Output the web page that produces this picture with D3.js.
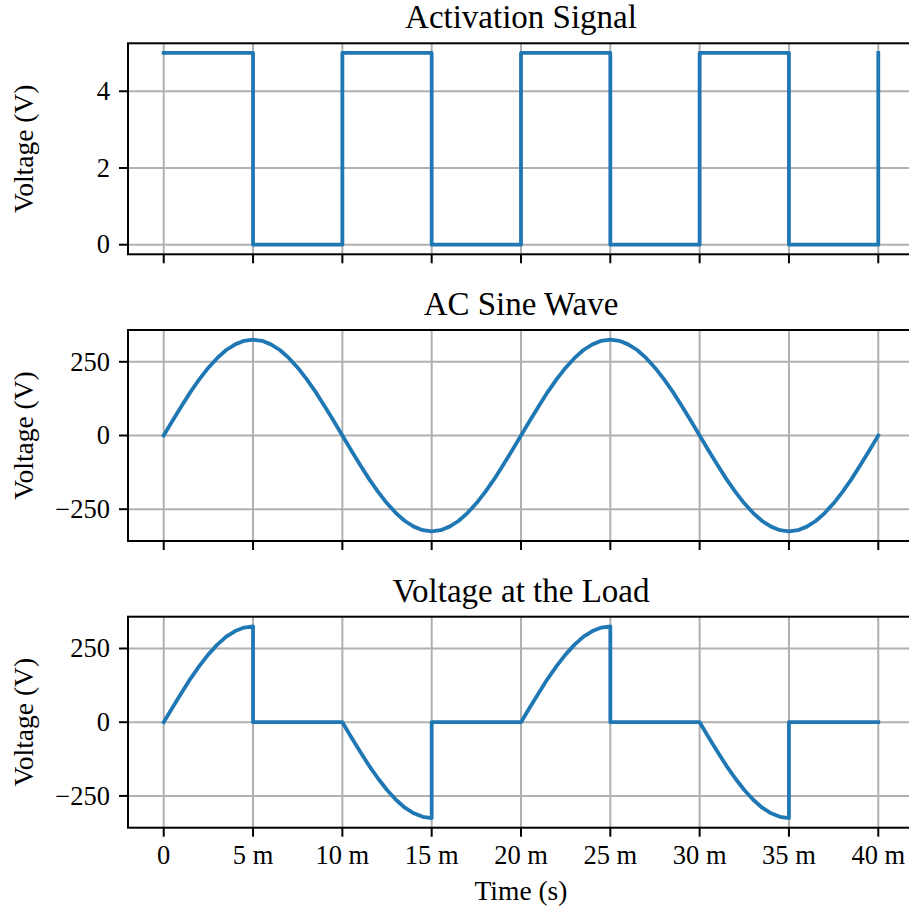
<!DOCTYPE html>
<html>
<head>
<meta charset="utf-8">
<script src="https://cdn.jsdelivr.net/npm/d3@7"></script>
<style>
  body { margin: 0; background: #fff; }
  text { font-family: "Liberation Serif", "DejaVu Serif", serif; fill: #000; }
</style>
</head>
<body>
<script>
// Data (time in ms, voltage in V)
const squareTimeMs = [0, 5, 5, 10, 10, 15, 15, 20, 20, 25, 25, 30, 30, 35, 35, 40, 40];
const squareVolts  = [5, 5, 0, 0, 5, 5, 0, 0, 5, 5, 0, 0, 5, 5, 0, 0, 5];

// AC sine wave, sampled every 0.5 ms from 0 to 40 ms
const sineTimeMs = [
  0, 0.5, 1, 1.5, 2, 2.5, 3, 3.5, 4, 4.5, 5, 5.5, 6, 6.5, 7, 7.5, 8, 8.5, 9, 9.5,
  10, 10.5, 11, 11.5, 12, 12.5, 13, 13.5, 14, 14.5, 15, 15.5, 16, 16.5, 17, 17.5, 18, 18.5, 19, 19.5,
  20, 20.5, 21, 21.5, 22, 22.5, 23, 23.5, 24, 24.5, 25, 25.5, 26, 26.5, 27, 27.5, 28, 28.5, 29, 29.5,
  30, 30.5, 31, 31.5, 32, 32.5, 33, 33.5, 34, 34.5, 35, 35.5, 36, 36.5, 37, 37.5, 38, 38.5, 39, 39.5,
  40
];
const sineVolts = [
  0, 51, 100, 148, 191, 230, 263, 290, 309, 321, 325, 321, 309, 290, 263, 230, 191, 148, 100, 51,
  0, -51, -100, -148, -191, -230, -263, -290, -309, -321, -325, -321, -309, -290, -263, -230, -191, -148, -100, -51,
  0, 51, 100, 148, 191, 230, 263, 290, 309, 321, 325, 321, 309, 290, 263, 230, 191, 148, 100, 51,
  0, -51, -100, -148, -191, -230, -263, -290, -309, -321, -325, -321, -309, -290, -263, -230, -191, -148, -100, -51,
  0
];

// Voltage at the load (sine passes while the activation signal is high)
const loadTimeMs = [
  0, 0.5, 1, 1.5, 2, 2.5, 3, 3.5, 4, 4.5, 5,
  5, 5.5, 6, 6.5, 7, 7.5, 8, 8.5, 9, 9.5, 10,
  10.5, 11, 11.5, 12, 12.5, 13, 13.5, 14, 14.5, 15,
  15, 15.5, 16, 16.5, 17, 17.5, 18, 18.5, 19, 19.5, 20,
  20.5, 21, 21.5, 22, 22.5, 23, 23.5, 24, 24.5, 25,
  25, 25.5, 26, 26.5, 27, 27.5, 28, 28.5, 29, 29.5, 30,
  30.5, 31, 31.5, 32, 32.5, 33, 33.5, 34, 34.5, 35,
  35, 35.5, 36, 36.5, 37, 37.5, 38, 38.5, 39, 39.5, 40
];
const loadVolts = [
  0, 51, 100, 148, 191, 230, 263, 290, 309, 321, 325,
  0, 0, 0, 0, 0, 0, 0, 0, 0, 0, 0,
  -51, -100, -148, -191, -230, -263, -290, -309, -321, -325,
  0, 0, 0, 0, 0, 0, 0, 0, 0, 0, 0,
  51, 100, 148, 191, 230, 263, 290, 309, 321, 325,
  0, 0, 0, 0, 0, 0, 0, 0, 0, 0, 0,
  -51, -100, -148, -191, -230, -263, -290, -309, -321, -325,
  0, 0, 0, 0, 0, 0, 0, 0, 0, 0, 0
];

const xTicks = [0, 5, 10, 15, 20, 25, 30, 35, 40];
const xTickLabels = ["0", "5 m", "10 m", "15 m", "20 m", "25 m", "30 m", "35 m", "40 m"];
const squareTicks = [0, 2, 4];
const acTicks = [-250, 0, 250];

const panels = [
  { title: "Activation Signal", t: squareTimeMs, v: squareVolts, domain: [-0.25, 5.25], ticks: squareTicks, top: 43.3 },
  { title: "AC Sine Wave", t: sineTimeMs, v: sineVolts, domain: [-357.8, 357.8], ticks: acTicks, top: 330 },
  { title: "Voltage at the Load", t: loadTimeMs, v: loadVolts, domain: [-357.8, 357.8], ticks: acTicks, top: 616.7 }
];

// Layout
const W = 909, H = 911;
const left = 128, right = 914, panelH = 211;
const lineColor = "#1f77b4";
const gridColor = "#b0b0b0";
const tickFont = 26.5, labelFont = 27.5, titleFont = 33;

const svg = d3.select("body").append("svg")
  .attr("width", W)
  .attr("height", H);

const x = d3.scaleLinear().domain([-2, 42]).range([left, right]);
const fmtY = d => d < 0 ? "\u2212" + Math.abs(d) : String(d);

panels.forEach((p, pi) => {
  const y = d3.scaleLinear().domain(p.domain).range([p.top + panelH, p.top]);
  const g = svg.append("g");

  // grid
  g.selectAll(".vg").data(xTicks).enter().append("line")
    .attr("x1", d => x(d)).attr("x2", d => x(d))
    .attr("y1", p.top).attr("y2", p.top + panelH)
    .attr("stroke", gridColor).attr("stroke-width", 2);
  g.selectAll(".hg").data(p.ticks).enter().append("line")
    .attr("x1", left).attr("x2", right)
    .attr("y1", d => y(d)).attr("y2", d => y(d))
    .attr("stroke", gridColor).attr("stroke-width", 2);

  // data line
  const pts = p.t.map((t, i) => [t, p.v[i]]);
  const line = d3.line().x(d => x(d[0])).y(d => y(d[1]));
  g.append("path")
    .attr("d", line(pts))
    .attr("fill", "none")
    .attr("stroke", lineColor)
    .attr("stroke-width", 3.8)
    .attr("stroke-linejoin", "round")
    .attr("stroke-linecap", "square");

  // spines
  g.append("rect")
    .attr("x", left).attr("y", p.top)
    .attr("width", right - left).attr("height", panelH)
    .attr("fill", "none").attr("stroke", "#000").attr("stroke-width", 2);

  // y ticks
  g.selectAll(".yt").data(p.ticks).enter().append("line")
    .attr("x1", left - 9).attr("x2", left)
    .attr("y1", d => y(d)).attr("y2", d => y(d))
    .attr("stroke", "#000").attr("stroke-width", 2);
  g.selectAll(".ytl").data(p.ticks).enter().append("text")
    .attr("x", left - 18).attr("y", d => y(d)).attr("dy", "0.33em")
    .attr("text-anchor", "end").attr("font-size", tickFont)
    .text(fmtY);

  // x ticks
  const yb = p.top + panelH;
  g.selectAll(".xt").data(xTicks).enter().append("line")
    .attr("x1", d => x(d)).attr("x2", d => x(d))
    .attr("y1", yb).attr("y2", yb + 9)
    .attr("stroke", "#000").attr("stroke-width", 2);
  if (pi === panels.length - 1) {
    g.selectAll(".xtl").data(xTicks).enter().append("text")
      .attr("x", d => x(d)).attr("y", yb + 36)
      .attr("text-anchor", "middle").attr("font-size", tickFont)
      .text((d, i) => xTickLabels[i]);
    g.append("text")
      .attr("x", (left + right) / 2).attr("y", yb + 72)
      .attr("text-anchor", "middle").attr("font-size", labelFont)
      .text("Time (s)");
  }

  // y label
  const cy = p.top + panelH / 2;
  g.append("text")
    .attr("transform", `translate(33,${cy}) rotate(-90)`)
    .attr("text-anchor", "middle").attr("font-size", labelFont)
    .text("Voltage (V)");

  // title
  g.append("text")
    .attr("x", (left + right) / 2).attr("y", p.top - 15)
    .attr("text-anchor", "middle").attr("font-size", titleFont)
    .text(p.title);
});
</script>
</body>
</html>
